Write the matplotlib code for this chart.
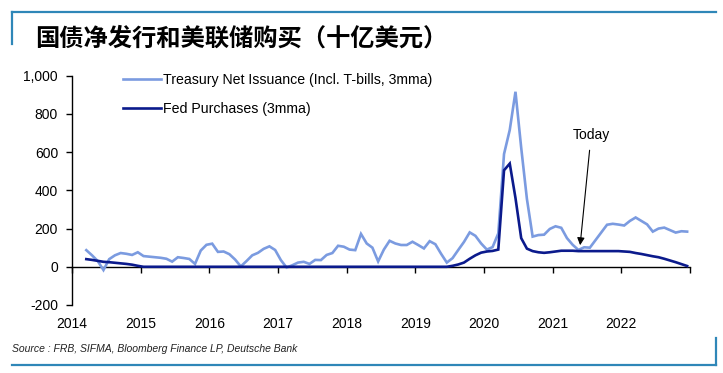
import numpy as np
import matplotlib
matplotlib.use("Agg")
import matplotlib.pyplot as plt
from matplotlib.lines import Line2D
from matplotlib.ticker import FuncFormatter

# monthly series, first point = March 2014, last = December 2022 (billions USD)
start_year = 2014
start_month = 3

treasury = [
    87, 60, 30, -17, 40, 60, 72, 68, 62, 76,          # 2014 Mar-Dec
    56, 53, 50, 47, 42, 27, 50, 46, 41, 15, 85, 115,  # 2015
    121, 78, 80, 66, 38, 2, 30, 60, 73, 94, 107, 88,  # 2016
    35, -4, 8, 22, 26, 15, 36, 35, 62, 72, 110, 105,  # 2017
    90, 87, 172, 122, 100, 28, 90, 136, 122, 114, 114, 131,  # 2018
    114, 96, 134, 118, 68, 22, 45, 88, 130, 180, 162, 122,   # 2019
    90, 103, 175, 590, 716, 916, 623, 355, 158, 166, 168, 198,  # 2020
    212, 204, 150, 115, 88, 102, 100, 140, 180, 220, 225, 221,  # 2021
    216, 240, 258, 240, 222, 184, 200, 205, 192, 179, 186, 184,  # 2022
]

fed = [
    40, 36, 31, 26, 24, 21, 18, 15, 11, 5,            # 2014 Mar-Dec
    0, 0, 0, 0, 0, 0, 0, 0, 0, 0, 0, 0,               # 2015
    0, 0, 0, 0, 0, 0, 0, 0, 0, 0, 0, 0,               # 2016
    0, 0, 0, 0, 0, 0, 0, 0, 0, 0, 0, 0,               # 2017
    0, 0, 0, 0, 0, 0, 0, 0, 0, 0, 0, 0,               # 2018
    0, 0, 0, 0, 0, 0, 5, 12, 22, 42, 60, 74,          # 2019
    80, 83, 90, 505, 540, 360, 150, 95, 82, 76, 73, 76,  # 2020
    80, 84, 84, 84, 82, 82, 82, 82, 82, 82, 82, 82,   # 2021
    80, 78, 72, 67, 61, 55, 50, 42, 33, 24, 14, 4,    # 2022
]

year_ticks = list(range(2014, 2024))
year_labels = [str(y) for y in range(2014, 2023)] + [""]
y_ticks = [-200, 0, 200, 400, 600, 800, 1000]

title = "国债净发行和美联储购买（十亿美元）"
source = "Source : FRB, SIFMA, Bloomberg Finance LP, Deutsche Bank"
label_treasury = "Treasury Net Issuance (Incl. T-bills, 3mma)"
label_fed = "Fed Purchases (3mma)"

plt.rcParams["font.family"] = ["Liberation Sans", "DejaVu Sans"]
plt.rcParams["axes.unicode_minus"] = False

W, H = 723, 373
fig = plt.figure(figsize=(W / 100, H / 100), dpi=100)
ax = fig.add_axes([72 / W, 1 - 305 / H, (690 - 72) / W, (305 - 75.7) / H])

# mid-month positions
months = np.arange(len(treasury)) + (start_month - 1)
x = start_year + (months + 0.5) / 12

light = "#7b9be0"
dark = "#0b1a8c"
ax.plot(x, treasury, color=light, lw=1.9, label=label_treasury, solid_joinstyle="miter")
ax.plot(x, fed, color=dark, lw=1.9, label=label_fed, solid_joinstyle="miter")

ax.set_xlim(2014, 2023)
ax.set_ylim(-200, 1000)
ax.set_yticks(y_ticks)
ax.yaxis.set_major_formatter(FuncFormatter(lambda v, p: f"{v:,.0f}"))
ax.set_xticks(year_ticks)
ax.set_xticklabels(year_labels)

for s in ["top", "right"]:
    ax.spines[s].set_visible(False)
ax.spines["left"].set_linewidth(1.0)
ax.spines["bottom"].set_position(("data", 0))
ax.spines["bottom"].set_linewidth(1.0)
ax.spines["bottom"].set_zorder(1)
ax.tick_params(axis="y", direction="out", length=4, width=1, pad=6,
               labelsize=10, colors="black")
ax.tick_params(axis="x", direction="out", length=4, width=1, pad=32,
               labelsize=10, colors="black")

ax.annotate("Today", xy=(2021.40, 113), xytext=(2021.56, 690),
            ha="center", va="center", fontsize=10,
            arrowprops=dict(arrowstyle="-|>", color="black", lw=0.8,
                            mutation_scale=11, shrinkA=4, shrinkB=0))

ax.legend(loc="upper left", bbox_to_anchor=(123 / W, 1 - 73 / H),
          bbox_transform=fig.transFigure, frameon=False, fontsize=10.2,
          handlelength=2.65, handletextpad=0.15, labelspacing=1.08,
          borderpad=0, borderaxespad=0)

fig.text(35 / W, 1 - 39 / H, title, fontsize=17.5, fontweight="heavy",
         family=["Noto Sans CJK SC", "DejaVu Sans"], va="center", ha="left")
fig.text(12 / W, 1 - 349 / H, source, fontsize=7.5, style="italic",
         family=["Liberation Sans Narrow", "Liberation Sans"], va="center",
         ha="left", color="#222222")

frame = "#2f87b8"
fig.add_artist(Line2D([12 / W, 716 / W], [1 - 12.3 / H, 1 - 12.3 / H],
                      color=frame, lw=1.6, transform=fig.transFigure))
fig.add_artist(Line2D([12 / W, 12 / W], [1 - 12 / H, 1 - 44 / H],
                      color=frame, lw=1.6, transform=fig.transFigure))
fig.add_artist(Line2D([12 / W, 716 / W], [1 - 365 / H, 1 - 365 / H],
                      color=frame, lw=1.6, transform=fig.transFigure))
fig.add_artist(Line2D([716 / W, 716 / W], [1 - 338 / H, 1 - 365 / H],
                      color=frame, lw=1.6, transform=fig.transFigure))

fig.savefig("out.png", dpi=100)
